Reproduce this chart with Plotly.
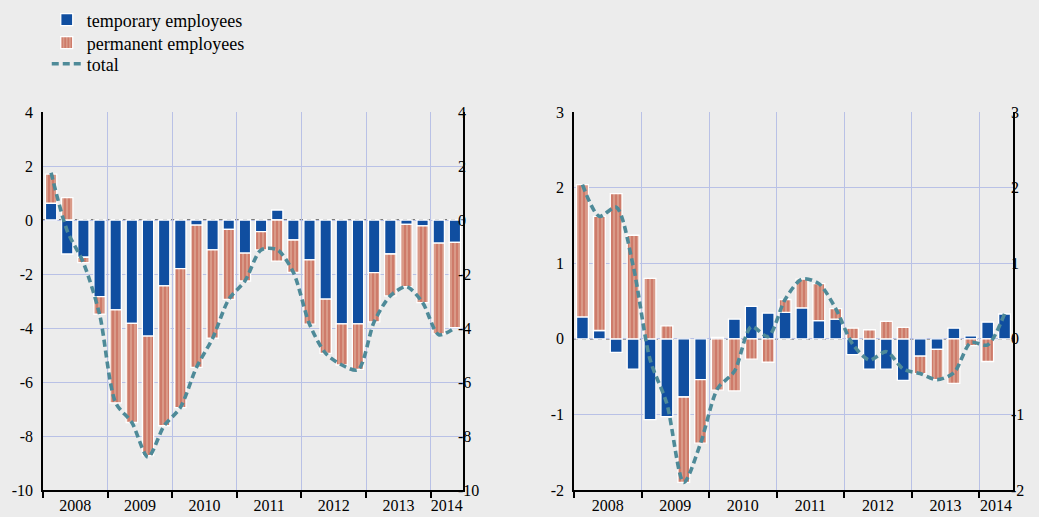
import plotly.graph_objects as go

quarters = ["2008Q1", "2008Q2", "2008Q3", "2008Q4",
            "2009Q1", "2009Q2", "2009Q3", "2009Q4",
            "2010Q1", "2010Q2", "2010Q3", "2010Q4",
            "2011Q1", "2011Q2", "2011Q3", "2011Q4",
            "2012Q1", "2012Q2", "2012Q3", "2012Q4",
            "2013Q1", "2013Q2", "2013Q3", "2013Q4",
            "2014Q1", "2014Q2"]
years = [2008, 2009, 2010, 2011, 2012, 2013, 2014]

# Left panel
left_temp = [0.62, -1.26, -1.38, -2.84, -3.33, -3.83, -4.30, -2.44,
             -1.80, -0.19, -1.11, -0.35, -1.23, -0.43, 0.37, -0.74,
             -1.48, -2.93, -3.85, -3.85, -1.95, -1.26, -0.16, -0.22,
             -0.86, -0.83]
left_perm = [1.08, 0.83, -0.20, -0.65, -3.44, -3.67, -4.43, -5.18,
             -5.15, -5.27, -3.27, -2.59, -1.03, -0.68, -1.52, -1.20,
             -2.38, -2.01, -1.52, -1.68, -1.82, -1.55, -2.31, -2.84,
             -3.36, -3.16]
left_total = [1.75, -0.40, -1.58, -3.49, -6.77, -7.50, -8.78, -7.62,
              -6.95, -5.46, -4.38, -2.94, -2.26, -1.11, -1.10, -1.94,
              -3.86, -4.94, -5.37, -5.55, -3.77, -2.81, -2.47, -3.06,
              -4.25, -3.99]

# Right panel
right_temp = [0.29, 0.11, -0.18, -0.40, -1.07, -1.03, -0.77, -0.54,
              0.02, 0.26, 0.43, 0.34, 0.35, 0.41, 0.24, 0.26,
              -0.21, -0.40, -0.40, -0.55, -0.23, -0.14, 0.14, 0.04,
              0.22, 0.33]
right_perm = [1.75, 1.51, 1.92, 1.37, 0.80, 0.17, -1.13, -0.84,
              -0.68, -0.69, -0.27, -0.31, 0.17, 0.38, 0.49, 0.14,
              0.14, 0.12, 0.23, 0.15, -0.23, -0.40, -0.59, -0.09,
              -0.30, 0.00]
right_total = [2.04, 1.62, 1.74, 0.97, -0.27, -0.86, -1.90, -1.38,
               -0.66, -0.43, 0.16, 0.03, 0.52, 0.79, 0.73, 0.40,
               -0.07, -0.28, -0.17, -0.40, -0.46, -0.54, -0.45, -0.05,
               -0.08, 0.33]

left_ticks = [4, 2, 0, -2, -4, -6, -8, -10]
left_labels = ["4", "2", "0", "-2", "-4", "-6", "-8", "-10"]
right_ticks = [3, 2, 1, 0, -1, -2]
right_labels = ["3", "2", "1", "0", "-1", "-2"]

names = ["temporary employees", "permanent employees", "total"]

# quarter mid positions on a numeric year axis
xpos = [int(q[:4]) + (int(q[5]) - 0.5) / 4 for q in quarters]
x_end = int(quarters[-1][:4]) + int(quarters[-1][5]) / 4
label_pos = [(y + min(y + 1, x_end)) / 2 for y in years]
label_txt = [str(y) for y in years]

BLUE = "#104ea0"
SALMON = "#d99a88"
DARKRED = "#b02a1c"
TEAL = "#4e8a98"
BG = "#ececec"
GRID = "#b9c1e6"
FONT = "Liberation Serif"

fig = go.Figure()

def add_panel(xa, ya, ya2, temp, perm, total, show):
    fig.add_trace(go.Bar(x=xpos, y=temp, name=names[0], xaxis=xa, yaxis=ya,
                         width=0.175, marker=dict(color=BLUE, line=dict(color="white", width=1.3)),
                         showlegend=show, legend="legend"))
    fig.add_trace(go.Bar(x=xpos, y=perm, name=names[1], xaxis=xa, yaxis=ya,
                         width=0.175,
                         marker=dict(color=SALMON, line=dict(color="white", width=1.3),
                                     pattern=dict(shape="|", fgcolor=DARKRED, bgcolor=SALMON,
                                                  size=4, solidity=0.28, fillmode="overlay")),
                         showlegend=show, legend="legend2"))
    fig.add_trace(go.Scatter(x=xpos, y=total, name=names[2], xaxis=xa, yaxis=ya,
                             mode="lines", line=dict(color=TEAL, width=3.6, dash="7px,4px", shape="spline", smoothing=0.8),
                             showlegend=show, legend="legend3"))
    fig.add_trace(go.Scatter(x=xpos, y=total, xaxis=xa, yaxis=ya2, mode="lines",
                             line=dict(width=0), opacity=0, showlegend=False, hoverinfo="skip"))

add_panel("x", "y", "y2", left_temp, left_perm, left_total, True)
add_panel("x2", "y3", "y4", right_temp, right_perm, right_total, False)

ydom = [(517 - 490) / 517, (517 - 112) / 517]
xdom1 = [43 / 1039, 463 / 1039]
xdom2 = [574 / 1039, 1013 / 1039]

xcommon = dict(range=[2008, x_end], tickmode="array", tickvals=label_pos, ticktext=label_txt,
               showgrid=False, ticks="", showline=True, linecolor="black", linewidth=1.5,
               zeroline=False, tickfont=dict(family=FONT, size=16, color="black"),
               ticklabelstandoff=0, automargin=False,
               minor=dict(tickmode="array", tickvals=years, ticks="outside", ticklen=6,
                          tickcolor="black", tickwidth=1.5, showgrid=True, gridcolor=GRID, gridwidth=1.2),
               fixedrange=True)

def ycommon(rng, tv, tt, side, standoff, line=True):
    return dict(range=rng, tickmode="array", tickvals=tv, ticktext=tt, side=side,
                showline=line, linecolor="black", linewidth=1.5, ticks="", ticklen=0,
                ticklabelstandoff=standoff, zeroline=False, automargin=False,
                tickfont=dict(family=FONT, size=16, color="black"), fixedrange=True)

def leg(ypix):
    return dict(x=0.045, y=1 - ypix / 517, xanchor="left", yanchor="middle",
                bgcolor="rgba(0,0,0,0)", borderwidth=0,
                font=dict(family=FONT, size=18, color="black"), itemwidth=30)

fig.update_layout(
    width=1039, height=517,
    margin=dict(l=0, r=0, t=0, b=0),
    paper_bgcolor=BG, plot_bgcolor=BG,
    barmode="relative",
    font=dict(family=FONT, size=16, color="black"),
    xaxis=dict(domain=xdom1, anchor="y", **xcommon),
    xaxis2=dict(domain=xdom2, anchor="y3", **xcommon),
    yaxis=dict(domain=ydom, anchor="x", showgrid=True, gridcolor=GRID, gridwidth=1.2, mirror=True,
               **ycommon([-10, 4], left_ticks, left_labels, "left", 5)),
    yaxis2=dict(anchor="free", position=457 / 1039, overlaying="y", showgrid=False,
                **ycommon([-10, 4], left_ticks, left_labels, "right", 0, line=False)),
    yaxis3=dict(domain=ydom, anchor="x2", showgrid=True, gridcolor=GRID, gridwidth=1.2, mirror=True,
                **ycommon([-2, 3], right_ticks, right_labels, "left", 5)),
    yaxis4=dict(anchor="free", position=1007 / 1039, overlaying="y3", showgrid=False,
                **ycommon([-2, 3], right_ticks, right_labels, "right", 3, line=False)),
    legend=leg(20),
    legend2=leg(43),
    legend3=leg(64),
    shapes=[
        dict(type="line", xref="x domain", yref="y", x0=0, x1=1, y0=0, y1=0,
             line=dict(color="#555555", width=1.5, dash="4px,4px"), layer="below"),
        dict(type="line", xref="x2 domain", yref="y3", x0=0, x1=1, y0=0, y1=0,
             line=dict(color="#555555", width=1.5, dash="4px,4px"), layer="below"),
    ],
)

fig.write_html("out.html", config={"displayModeBar": False},
               post_script="document.body.style.margin='0';document.body.style.padding='0';")
